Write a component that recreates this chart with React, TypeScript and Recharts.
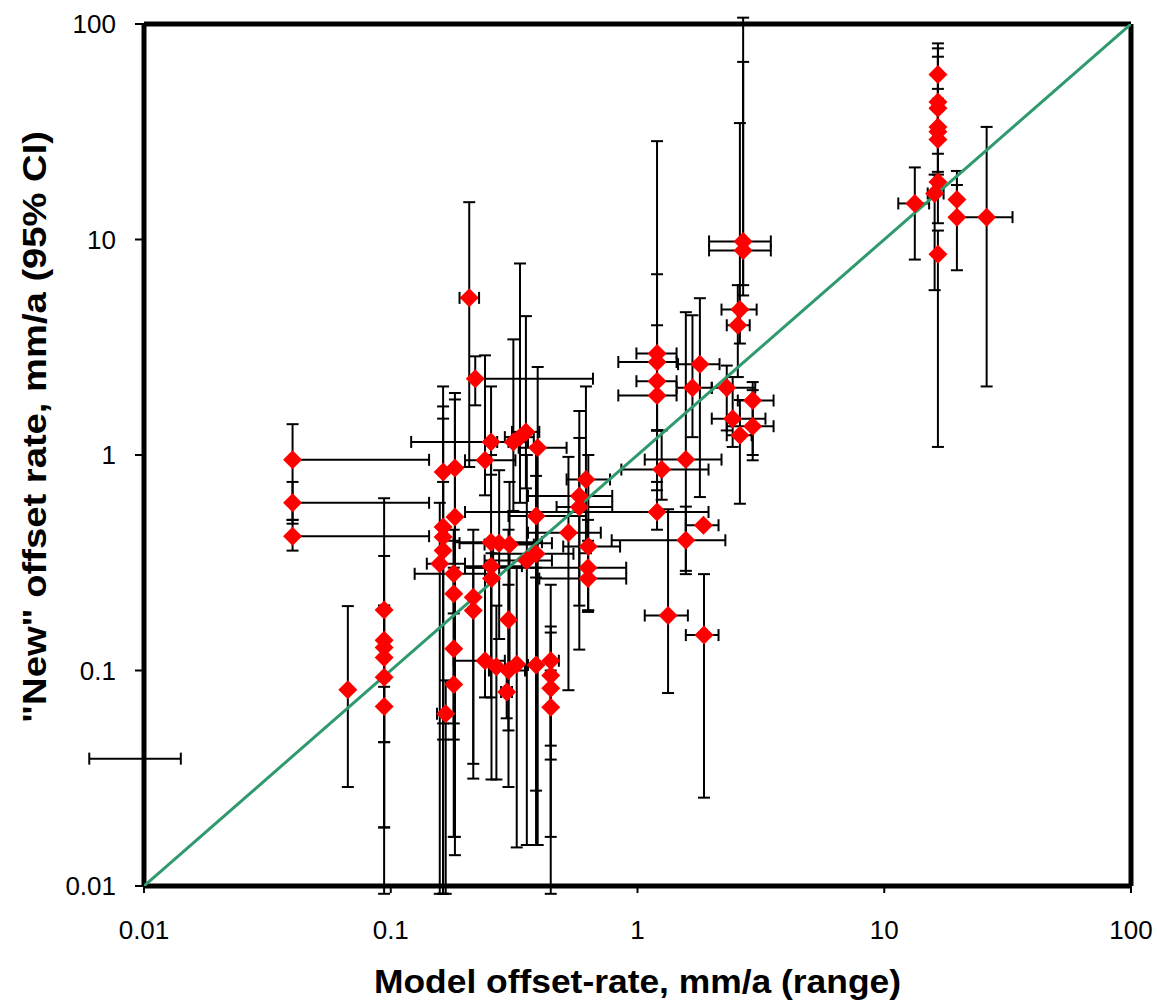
import React from 'react';
import { ScatterChart, Scatter, XAxis, YAxis, ErrorBar, ReferenceLine, Label } from 'recharts';

// Model offset-rate (x, mm/a) and its range
const modelRate = [
  0.04, 0.04, 0.04, 0.006, 0.067,
  0.094, 0.094, 0.094, 0.094, 0.094, 0.094,
  0.163, 0.182, 0.182, 0.163, 0.163, 0.163, 0.158, 0.18, 0.18, 0.18, 0.18, 0.167, 0.216, 0.216,
  0.208, 0.22, 0.255, 0.241, 0.314, 0.334, 0.353, 0.394, 0.618, 0.581, 0.581, 0.388, 0.525, 0.632,
  0.63, 0.63, 0.255, 0.275, 0.303, 0.388, 0.356, 0.255, 0.256, 0.30, 0.241, 0.268, 0.30, 0.324,
  0.295, 0.388, 0.445, 0.445, 0.445, 0.445,
  1.2, 1.2, 1.2, 1.2, 1.2, 1.253, 1.57, 1.57, 1.85, 1.33, 1.86, 1.79, 1.67, 2.3, 2.93, 2.43, 2.93,
  2.6, 2.6, 2.55, 2.68, 2.68,
  16.5, 16.5, 16.5, 16.5, 16.5, 16.5, 16.5, 16.0, 16.5, 13.3, 19.7, 19.7, 26.0,
];
const modelLow: (number | null)[] = [
  null, null, null, null, null,
  null, null, null, null, null, null,
  null, null, null, null, null, null, 0.14, 0.125, null, null, null, 0.154, null, null,
  0.19, null, 0.121, 0.2, 0.27, 0.29, 0.31, 0.33, 0.516, 0.36, 0.47, 0.3, 0.36, 0.5,
  0.2, 0.4, 0.18, 0.19, 0.24, 0.26, 0.24, 0.2, null, null, 0.18, null, 0.25, null,
  0.28, 0.36, null, null, null, null,
  0.99, 0.836, 0.99, 0.836, 0.2, 0.86, 1.07, 0.786, 1.57, 1.07, 1.57, 1.46, 1.44, 2.0, 2.55, 2.0, 2.3,
  2.3, 2.19, 2.3, 1.95, 1.95,
  null, null, null, null, null, null, null, 15.0, null, 11.4, null, null, 19.7,
];
const modelHigh: (number | null)[] = [
  0.143, 0.143, 0.143, 0.0141, null,
  null, null, null, null, null, null,
  null, null, null, null, null, null, 0.2, 0.25, null, null, null, null, null, null,
  0.228, 0.66, 0.3, 0.32, 0.36, 0.38, 0.4, 0.516, 0.774, 0.79, 0.79, 0.62, 0.71, 0.85,
  0.9, 0.9, 0.41, 0.45, 0.38, 0.55, 0.45, 0.34, null, null, 0.29, null, 0.35, null,
  0.31, null, 0.48, null, null, null,
  1.44, 1.44, 1.44, 1.44, 1.94, 1.94, 2.19, 2.27, 2.13, 1.6, 2.13, 2.15, 2.0, 3.0, 3.56, 3.3, 3.56,
  2.9, 3.04, 2.85, 3.47, 3.47,
  null, null, null, null, null, null, null, 17.4, null, 15.2, null, null, 33.1,
];

// "New" offset rate (y, mm/a) and its 95% CI
const newRate = [
  0.95, 0.6, 0.42, 0.039, 0.0815,
  0.191, 0.138, 0.128, 0.115, 0.093, 0.068,
  0.834, 0.87, 0.515, 0.463, 0.416, 0.36, 0.313, 0.281, 0.227, 0.126, 0.086, 0.063, 0.219, 0.19,
  5.36, 2.26, 1.15, 0.945, 1.149, 1.21, 1.28, 1.08, 0.77, 0.646, 0.574, 0.521, 0.436, 0.376,
  0.3, 0.267, 0.394, 0.39, 0.384, 0.348, 0.324, 0.305, 0.267, 0.172, 0.111, 0.104, 0.1, 0.107,
  0.0795, 0.106, 0.111, 0.0948, 0.0828, 0.0676,
  2.96, 2.7, 2.2, 1.89, 0.544, 0.856, 0.952, 0.402, 0.472, 0.18, 0.146, 2.64, 2.05, 2.05, 1.79, 1.475, 1.36,
  1.235, 4.73, 4.0, 9.8, 8.9,
  58.3, 43.5, 40.6, 33.3, 31.6, 29.1, 18.5, 16.35, 8.55, 14.7, 15.35, 12.7, 12.7,
];
const ciLow: (number | null)[] = [
  0.5, 0.48, 0.36, null, 0.0288,
  0.084, 0.0465, 0.0187, 0.0092, 0.0465, 0.0187,
  0.0092, 0.0139, 0.0169, 0.0092, 0.0478, 0.0568, 0.0092, 0.184, 0.0478, 0.0568, 0.0169, 0.0092, 0.0369, 0.0315,
  0.88, 1.7, 0.81, 0.65, 0.55, 0.6, 0.7, 0.0155, 0.35, 0.2, 0.125, 0.27, 0.081, 0.19,
  0.19, 0.187, 0.11, 0.14, 0.1, 0.0155, 0.0155, 0.075, 0.0312, 0.0527, 0.075, 0.0312, 0.0288, 0.0151,
  0.06, 0.0277, 0.0448, 0.0386, 0.0169, 0.0092,
  1.3, 0.686, 1.3, 1.3, 0.45, 0.62, 0.29, 0.28, null, 0.0786, 0.0257, 0.638, 1.21, 1.3, 0.945, 1.09, 1.0,
  0.594, 3.29, 2.3, 6.14, 5.5,
  33, 29, 25, 20, 18, 17, 11.9, 5.82, 1.09, 8.07, 12.7, 7.2, 2.08,
];
const ciHigh: (number | null)[] = [
  1.39, 0.75, 0.5, null, 0.199,
  0.63, 0.34, 0.2, 0.2, 0.115, 0.09,
  2.08, 1.94, 1.81, 1.68, 1.475, 0.75, 0.6, 0.45, 0.4, 0.3, 0.126, 0.09, 0.45, 0.3,
  14.9, 2.87, 2.08, 2.9, 3.44, 7.74, 4.41, 2.56, 2.08, 1.6, 1.2, 1.1, 0.98, 1.0,
  0.5, 0.4, 1.0, 0.85, 0.75, 0.8, 1.0, 0.394, 0.35, 0.45, 0.3, 0.2, 0.25, 0.3,
  0.1, 0.3, 0.25, 0.16, 0.15, 0.1,
  28.6, 6.9, 4.0, 2.9, 0.75, 1.3, 4.6, 0.576, null, 0.56, 0.28, 5.34, 4.45, 2.6, 2.18, 2.3, 2.0,
  1.8, 34.7, 6.14, 107, 66.7,
  81.3, 77.1, 70.5, 50, 45, 40, 20.6, 20, 11.0, 21.6, 20.8, 17.9, 33.3,
];

const axisTicks = [0.01, 0.1, 1, 10, 100];
const oneToOne = [0.01, 100];

const data = modelRate.map((x, i) => {
  const y = newRate[i];
  const xl = modelLow[i];
  const xh = modelHigh[i];
  const yl = ciLow[i];
  const yh = ciHigh[i];
  return {
    x,
    y,
    ex: xl == null && xh == null ? undefined : [x - (xl ?? x), (xh ?? x) - x],
    ey: yl == null && yh == null ? undefined : [y - (yl ?? y), (yh ?? y) - y],
  };
});
const diagData = oneToOne.map((v) => ({ x: v, y: v }));

const FONT = '"Liberation Sans", Arial, Helvetica, sans-serif';

function Diamond(props: any) {
  const { cx, cy } = props;
  if (cx == null || cy == null || isNaN(cx) || isNaN(cy)) return <g />;
  const r = 9.5;
  return (
    <polygon
      points={`${cx},${cy - r} ${cx + r},${cy} ${cx},${cy + r} ${cx - r},${cy}`}
      fill="#ff0000"
    />
  );
}

function XTick(props: any) {
  const { x, y, payload } = props;
  return (
    <text x={x} y={y} dy="0.71em" textAnchor="middle" fontFamily={FONT} fontSize={26} fill="#000">
      {String(payload.value)}
    </text>
  );
}

function YTick(props: any) {
  const { x, y, payload } = props;
  return (
    <text x={x} y={y} dy="0.355em" textAnchor="end" fontFamily={FONT} fontSize={26} fill="#000">
      {String(payload.value)}
    </text>
  );
}

function XTitle(props: any) {
  const vb = props.viewBox || {};
  const cx = vb.x + vb.width / 2;
  const y = vb.y + 107;
  return (
    <text
      x={cx}
      y={y}
      textAnchor="middle"
      fontFamily={FONT}
      fontWeight="bold"
      fontSize={34}
      fill="#000"
      textLength={527}
      lengthAdjust="spacingAndGlyphs"
    >
      Model offset-rate, mm/a (range)
    </text>
  );
}

function YTitle(props: any) {
  const vb = props.viewBox || {};
  const x = vb.x + 38;
  const y = vb.y + vb.height / 2 - 28;
  return (
    <text
      x={x}
      y={y}
      transform={`rotate(-90, ${x}, ${y})`}
      textAnchor="middle"
      fontFamily={FONT}
      fontWeight="bold"
      fontSize={34}
      fill="#000"
      textLength={592}
      lengthAdjust="spacingAndGlyphs"
    >
      "New" offset rate, mm/a (95% CI)
    </text>
  );
}

export default function App() {
  return (
    <div style={{ position: 'fixed', left: 8, top: 8, width: 1149, height: 994, background: '#fff' }}>
      <ScatterChart
        width={1149}
        height={994}
        margin={{ top: 16, right: 26, bottom: 56, left: 0 }}
        style={{ overflow: 'visible' }}
      >
        <XAxis
          type="number"
          dataKey="x"
          scale="log"
          domain={[0.01, 100]}
          allowDataOverflow
          ticks={axisTicks}
          interval={0}
          tickSize={7}
          tickMargin={28}
          height={60}
          axisLine={{ stroke: '#000', strokeWidth: 5 }}
          tickLine={{ stroke: '#000', strokeWidth: 2 }}
          tick={<XTick />}
        >
          <Label content={<XTitle />} />
        </XAxis>
        <YAxis
          type="number"
          dataKey="y"
          scale="log"
          domain={[0.01, 100]}
          allowDataOverflow
          ticks={axisTicks}
          interval={0}
          tickSize={9}
          tickMargin={19}
          width={136}
          axisLine={{ stroke: '#000', strokeWidth: 5 }}
          tickLine={{ stroke: '#000', strokeWidth: 2 }}
          tick={<YTick />}
        >
          <Label content={<YTitle />} />
        </YAxis>
        <Scatter
          data={diagData}
          line={{ stroke: '#2f9a6d', strokeWidth: 3 }}
          shape={() => <g />}
          isAnimationActive={false}
        />
        <Scatter data={data} shape={<Diamond />} isAnimationActive={false}>
          <ErrorBar dataKey="ex" direction="x" width={6} stroke="#000" strokeWidth={2} />
          <ErrorBar dataKey="ey" direction="y" width={6} stroke="#000" strokeWidth={2} />
        </Scatter>
        <ReferenceLine y={100} stroke="#000" strokeWidth={5} />
        <ReferenceLine x={100} stroke="#000" strokeWidth={5} />
      </ScatterChart>
    </div>
  );
}
